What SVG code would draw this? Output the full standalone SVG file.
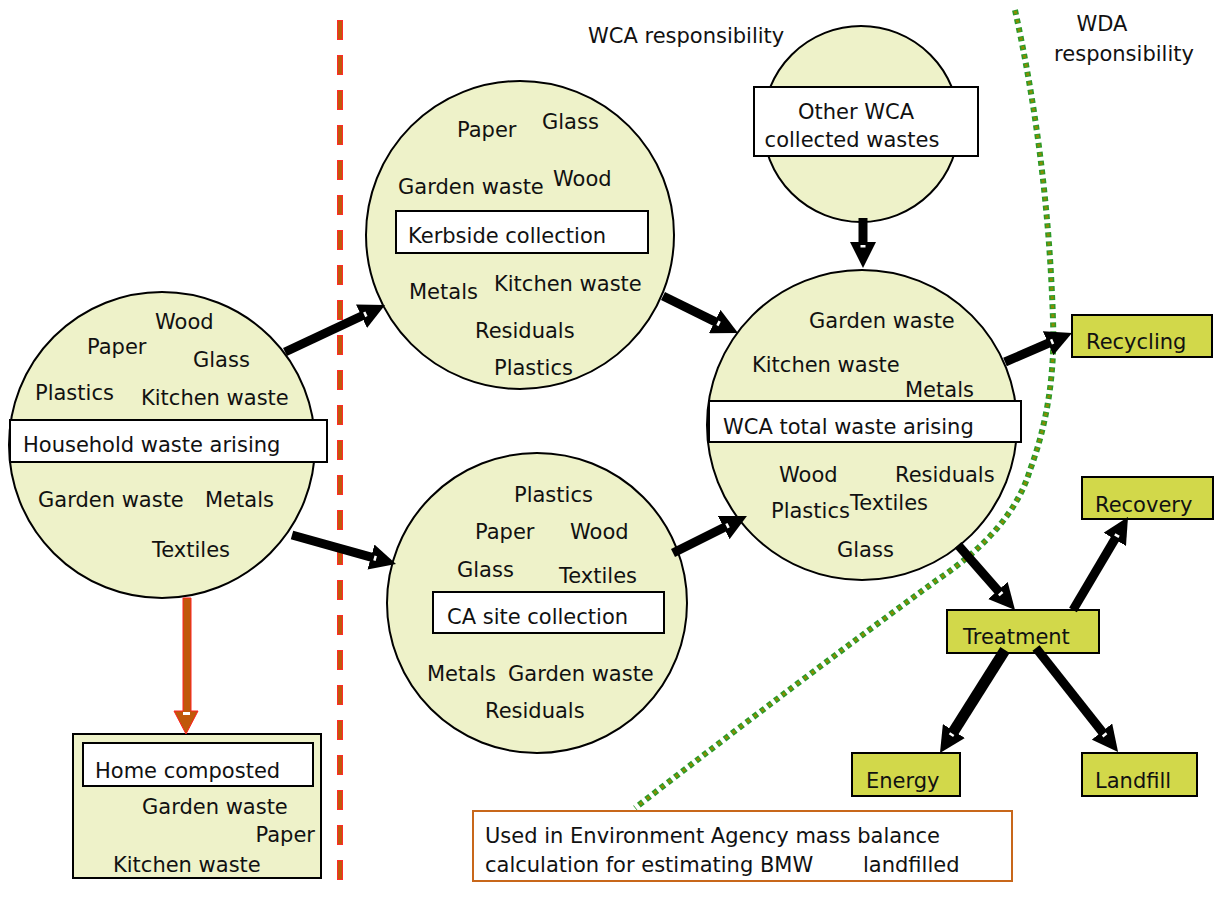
<svg xmlns="http://www.w3.org/2000/svg" width="1215" height="897" viewBox="0 0 1215 897">
<defs>
<style>
text{font-family:"DejaVu Sans","Verdana",sans-serif;font-size:21px;fill:#111}
.circ{fill:#eef2c9;stroke:#000;stroke-width:2}
.wbox{fill:#fff;stroke:#000;stroke-width:2}
.gbox{fill:#d2d84a;stroke:#000;stroke-width:2}
.arr{stroke:#000;stroke-width:9;fill:none;marker-end:url(#ah)}
.arr2{stroke:#000;stroke-width:11;fill:none;marker-end:url(#ah)}
</style>
<marker id="ah" viewBox="0 0 26 26" markerWidth="26" markerHeight="26" markerUnits="userSpaceOnUse" refX="2" refY="13" orient="auto">
<path d="M0,0 L26,13 L0,26 Z" fill="#000"/>
<rect x="3" y="10.5" width="2.5" height="5" fill="#fff"/>
</marker>
</defs>
<rect width="1215" height="897" fill="#fff"/>

<g id="divider">
<line x1="340" y1="20" x2="340" y2="890" stroke="#ff2a2a" stroke-width="6" stroke-dasharray="20 15"/>
<line x1="340" y1="21" x2="340" y2="890" stroke="#c0580a" stroke-width="4" stroke-dasharray="18 17"/>
</g>

<g id="boundary" fill="none">
<path d="M1015,10 Q1048,160 1053,320 Q1056,400 1030,470 Q1012,530 937,580 Q800,680 635,808" stroke="#2a9a2a" stroke-width="6" stroke-dasharray="5 4"/>
<path d="M1015,10 Q1048,160 1053,320 Q1056,400 1030,470 Q1012,530 937,580 Q800,680 635,808" stroke="#8a8c00" stroke-width="3" stroke-dasharray="3 6" stroke-dashoffset="-1"/>
</g>

<text x="588" y="43">WCA responsibility</text>
<text x="1102" y="31" text-anchor="middle">WDA</text>
<text x="1124" y="61" text-anchor="middle">responsibility</text>

<g id="household">
<circle class="circ" cx="162" cy="445" r="153"/>
<text x="155" y="329">Wood</text>
<text x="87" y="354">Paper</text>
<text x="193" y="367">Glass</text>
<text x="35" y="400">Plastics</text>
<text x="141" y="405">Kitchen waste</text>
<rect class="wbox" x="10" y="420" width="317" height="42"/>
<text x="23" y="452">Household waste arising</text>
<text x="38" y="507">Garden waste</text>
<text x="205" y="507">Metals</text>
<text x="152" y="557">Textiles</text>
</g>

<g id="kerbside">
<circle class="circ" cx="520" cy="235" r="154"/>
<text x="457" y="137">Paper</text>
<text x="542" y="129">Glass</text>
<text x="398" y="194">Garden waste</text>
<text x="553" y="186">Wood</text>
<rect class="wbox" x="396" y="211" width="252" height="42"/>
<text x="408" y="243">Kerbside collection</text>
<text x="409" y="299">Metals</text>
<text x="494" y="291">Kitchen waste</text>
<text x="475" y="338">Residuals</text>
<text x="494" y="375">Plastics</text>
</g>

<g id="casite">
<circle class="circ" cx="537" cy="603" r="150"/>
<text x="514" y="502">Plastics</text>
<text x="475" y="539">Paper</text>
<text x="570" y="539">Wood</text>
<text x="457" y="577">Glass</text>
<text x="559" y="583">Textiles</text>
<rect class="wbox" x="433" y="592" width="231" height="41"/>
<text x="447" y="624">CA site collection</text>
<text x="427" y="681">Metals</text>
<text x="508" y="681">Garden waste</text>
<text x="485" y="718">Residuals</text>
</g>

<g id="other">
<circle class="circ" cx="861" cy="124" r="98"/>
<rect class="wbox" x="754" y="87" width="224" height="69"/>
<text x="856" y="119" text-anchor="middle">Other WCA</text>
<text x="852" y="147" text-anchor="middle">collected wastes</text>
</g>

<g id="wcatotal">
<circle class="circ" cx="862" cy="425" r="155"/>
<text x="809" y="328">Garden waste</text>
<text x="752" y="372">Kitchen waste</text>
<text x="905" y="397">Metals</text>
<rect class="wbox" x="709" y="401" width="312" height="41"/>
<text x="723" y="434">WCA total waste arising</text>
<text x="779" y="482">Wood</text>
<text x="895" y="482">Residuals</text>
<text x="771" y="518">Plastics</text>
<text x="850" y="510">Textiles</text>
<text x="837" y="557">Glass</text>
</g>

<g id="recycling">
<rect class="gbox" x="1072" y="315" width="140" height="42"/>
<text x="1086" y="349">Recycling</text>
</g>
<g id="recovery">
<rect class="gbox" x="1082" y="477" width="131" height="42"/>
<text x="1095" y="512">Recovery</text>
</g>
<g id="treatment">
<rect class="gbox" x="947" y="610" width="152" height="43"/>
<text x="963" y="644">Treatment</text>
</g>
<g id="energy">
<rect class="gbox" x="852" y="753" width="108" height="43"/>
<text x="866" y="788">Energy</text>
</g>
<g id="landfill">
<rect class="gbox" x="1082" y="753" width="115" height="43"/>
<text x="1095" y="788">Landfill</text>
</g>

<g id="homecomposted">
<rect x="73" y="734" width="248" height="144" fill="#eef2c9" stroke="#000" stroke-width="2"/>
<rect class="wbox" x="83" y="743" width="230" height="43"/>
<text x="95" y="778">Home composted</text>
<text x="142" y="814">Garden waste</text>
<text x="315" y="842" text-anchor="end">Paper</text>
<text x="113" y="872">Kitchen waste</text>
</g>

<g id="note">
<rect x="473" y="811" width="539" height="70" fill="#fff" stroke="#c8671a" stroke-width="2"/>
<text x="485" y="843">Used in Environment Agency mass balance</text>
<text y="872"><tspan x="485">calculation for estimating BMW</tspan><tspan x="863">landfilled</tspan></text>
</g>

<g id="connectors">
<polygon points="183,598 191,598 191,711 198,711 186,734 174,711 183,711" fill="#c0580a" stroke="#ff2020" stroke-width="1"/>
<rect x="183" y="712" width="7" height="3" fill="#fff"/>
<line class="arr" x1="285" y1="352" x2="363.3" y2="315.3"/>
<line class="arr" x1="292" y1="535" x2="372.9" y2="557.6"/>
<line class="arr" x1="663" y1="296" x2="716.5" y2="322.4"/>
<line class="arr" x1="673" y1="553" x2="725.5" y2="526.7"/>
<line class="arr" x1="863" y1="218" x2="863" y2="244"/>
<line class="arr" x1="1005" y1="362" x2="1050" y2="342.5"/>
<line class="arr" x1="958" y1="545" x2="999.2" y2="592"/>
<line class="arr" x1="1073" y1="610" x2="1115.8" y2="537.6"/>
<line class="arr2" x1="1005" y1="650" x2="952.8" y2="732.7"/>
<line class="arr" x1="1036" y1="648" x2="1103.2" y2="733.1"/>
</g>
</svg>
